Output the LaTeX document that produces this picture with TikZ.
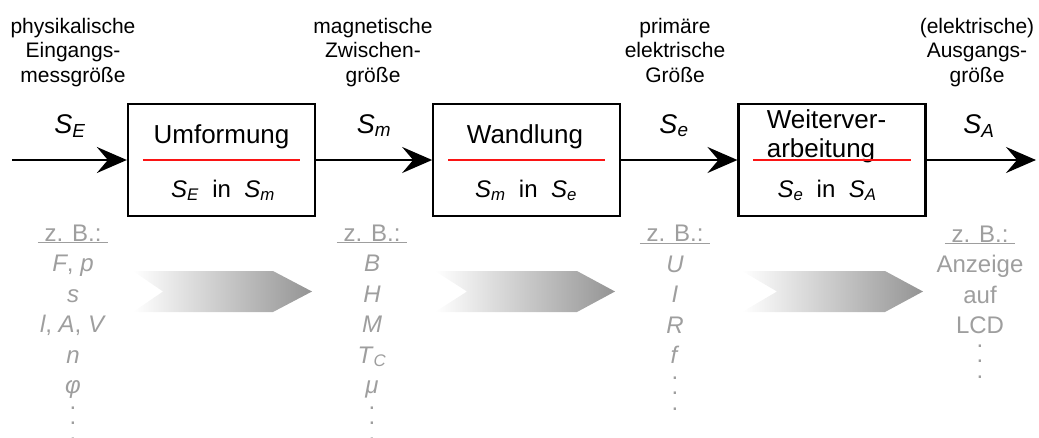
\documentclass[tikz,border=0pt]{standalone}
\usepackage{fontspec}
\setmainfont{Liberation Sans}
\usepackage{xcolor}
\definecolor{listgray}{RGB}{158,158,158}
\definecolor{signalred}{RGB}{250,20,20}
\usetikzlibrary{arrows.meta, positioning, calc}

\newcommand{\grsym}[2]{\textit{#1}\textsubscript{\textit{#2}}}

\begin{document}
\begin{tikzpicture}[
    x=1pt, y=-1pt,
    node distance=116pt,
    block/.style={
      rectangle,
      draw=black,
      line width=2.3pt,
      minimum height=112pt,
      minimum width=187pt
    },
    boxtitle/.style={
      font=\fontsize{26}{29}\selectfont,
      inner sep=0pt,
      anchor=base
    },
    boxsub/.style={
      font=\fontsize{24}{28}\selectfont,
      inner sep=0pt,
      anchor=base
    },
    toplabel/.style={
      font=\fontsize{21}{24.5}\selectfont,
      align=center,
      inner sep=0pt,
      anchor=base
    },
    symlabel/.style={
      font=\fontsize{27}{30}\selectfont,
      inner sep=0pt,
      anchor=base
    },
    examples/.style={
      font=\fontsize{24}{30.5}\selectfont,
      text=listgray,
      align=center,
      inner sep=0pt,
      anchor=base
    },
    redline/.style={
      draw=signalred,
      line width=2pt
    },
    chevron/.style={
      left color=white,
      right color=black!42
    },
    arrow/.style={
      -{Stealth[length=30pt, width=26pt, inset=11pt]},
      line width=2.3pt,
      draw=black
    }
  ]

    \useasboundingbox (0,0) rectangle (1039,437);

    % Blocks (left to right)
    \node (umform) [block] at (221.5,160) {};
    \node (wandl) [block, right=of umform] {};
    \node (weiter) [block, right=of wandl] {};

    % Block texts (multi-line nodes sit on their last baseline)
    \node (umformT) [boxtitle] at (221.5,143) {Umformung};
    \node (wandlT) [boxtitle] at (525,143) {Wandlung};
    \node (weiterT) [boxtitle, align=left] at (826.5,157) {Weiterver-\\arbeitung};
    \node (umformS) [boxsub] at (223,197) {\grsym{S}{E} \ in \ \grsym{S}{m}};
    \node (wandlS) [boxsub] at (526,197) {\grsym{S}{m} \ in \ \grsym{S}{e}};
    \node (weiterS) [boxsub] at (827,197) {\grsym{S}{e} \ in \ \grsym{S}{A}};

    \draw [redline] ([xshift=16pt]umform.west) -- ([xshift=-16pt]umform.east);
    \draw [redline] ([xshift=16pt]wandl.west) -- ([xshift=-16pt]wandl.east);
    \draw [redline] ([xshift=16pt]weiter.west) -- ([xshift=-16pt]weiter.east);

    % Signal names
    \node (lblE) [toplabel] at (73,82) {physikalische\\Eingangs-\\messgröße};
    \node (lblm) [toplabel] at (373,82) {magnetische\\Zwischen-\\größe};
    \node (lble) [toplabel] at (675,82) {primäre\\elektrische\\Größe};
    \node (lblA) [toplabel] at (977,82) {(elektrische)\\Ausgangs-\\größe};

    \node (symE) [symlabel] at (70,133) {\grsym{S}{E}};
    \node (symm) [symlabel] at (374,133) {\grsym{S}{m}};
    \node (syme) [symlabel] at (674,133) {\grsym{S}{e}};
    \node (symA) [symlabel] at (979,133) {\grsym{S}{A}};

    % Connections
    \coordinate (input) at (12,160);
    \coordinate (output) at (1036,160);
    \draw [arrow] (input) -- (umform);
    \draw [arrow] (umform) -- (wandl);
    \draw [arrow] (wandl) -- (weiter);
    \draw [arrow] (weiter) -- (output);

    % Examples
    \node (exE) [examples] at (73,440) {\underline{\ z. B.:\ }\\
      \textit{F}, \textit{p}\\ \textit{s}\\ \textit{l}, \textit{A}, \textit{V}\\
      \textit{n}\\ \textit{φ}\\[-15pt] .\\[-15pt] .\\[-15pt] .};
    \node (exm) [examples] at (372,440) {\underline{\ z. B.:\ }\\
      \textit{B}\\ \textit{H}\\ \textit{M}\\ \grsym{T}{C}\\
      \textit{μ}\\[-15pt] .\\[-15pt] .\\[-15pt] .};
    \node (exe) [examples] at (675,410) {\underline{\ z. B.:\ }\\
      \textit{U}\\ \textit{I}\\ \textit{R}\\
      \textit{f}\\[-15pt] .\\[-15pt] .\\[-15pt] .};
    \node (exA) [examples] at (980,378) {\underline{\ z. B.:\ }\\
      Anzeige\\ auf\\
      LCD\\[-17pt] .\\[-15pt] .\\[-15pt] .};

    % Gray process arrows
    \shade [chevron] (133,271) -- (273,271) -- (312,291.5) -- (273,312) -- (133,312) -- (163,291.5) -- cycle;
    \shade [chevron] (435,271) -- (577,271) -- (615,291.5) -- (577,312) -- (435,312) -- (467,291.5) -- cycle;
    \shade [chevron] (742,271) -- (885,271) -- (923,291.5) -- (885,312) -- (742,312) -- (777,291.5) -- cycle;

  \end{tikzpicture}
\end{document}
